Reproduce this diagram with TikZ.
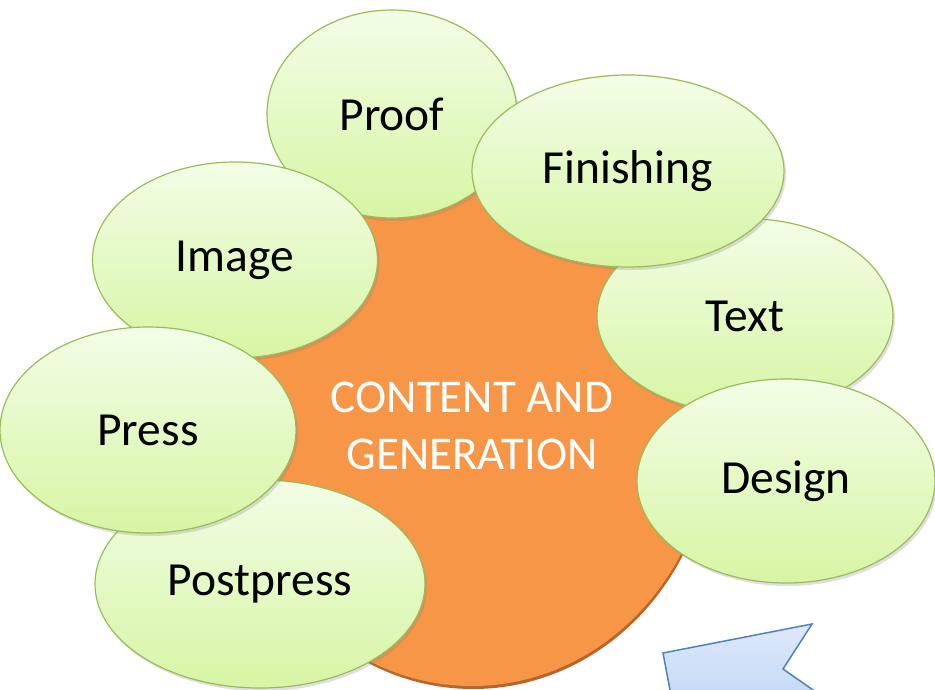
\documentclass[tikz,border=0pt]{standalone}
\usepackage{fontspec}
\setmainfont{Carlito}
\usetikzlibrary{shapes.geometric,shadows}
\definecolor{leafTop}{HTML}{F2FDE6}
\definecolor{leafBot}{HTML}{D7F5A4}
\definecolor{leafRim}{HTML}{9BBB59}
\definecolor{coreFill}{HTML}{F79646}
\definecolor{coreRim}{HTML}{B9652A}
\definecolor{arrowTop}{HTML}{DDE9FC}
\definecolor{arrowBot}{HTML}{C3D7F4}
\definecolor{arrowRim}{HTML}{4F81BD}
\begin{document}
\begin{tikzpicture}[x=1pt,y=-1pt,
  leaf/.style={draw=leafRim, line width=1.2pt, ellipse, inner sep=0pt,
    top color=leafTop, bottom color=leafBot,
    font=\fontsize{47.5}{50}\selectfont,
    drop shadow={opacity=0.25, shadow xshift=2pt, shadow yshift=-3pt}},
  core/.style={ellipse, inner sep=0pt, fill=coreFill, text=white, align=center,
    font=\fontsize{47}{57}\selectfont,
    drop shadow={fill=coreRim, opacity=1, shadow xshift=1pt, shadow yshift=-3pt}}]
\useasboundingbox (0,0) rectangle (935,690);
\node[core, minimum width=480pt, minimum height=520pt] (core) at (472,426) {CONTENT AND\\GENERATION};
\node[leaf, minimum width=330pt, minimum height=208pt] (postpress) at (260,584) {Postpress};
\node[leaf, minimum width=250pt, minimum height=208pt] (proof) at (392,114) {Proof};
\node[leaf, minimum width=285pt, minimum height=196pt] (image) at (235,260) {Image};
\node[leaf, minimum width=296pt, minimum height=206pt] (press) at (148,430) {Press};
\node[leaf, minimum width=296pt, minimum height=195pt] (text) at (745,316) {Text};
\node[leaf, minimum width=312pt, minimum height=192pt] (finishing) at (628,171) {Finishing};
\node[leaf, minimum width=298pt, minimum height=204pt] (design) at (786,481) {Design};
% arrow tail, cut off by the page edge
\begin{scope}
\clip (0,0) rectangle (935,690);
\draw[draw=arrowRim, line width=1.5pt, top color=arrowTop, bottom color=arrowBot]
  (663,653) -- (812,624) -- (783,669) -- (836,706) -- (673,706) -- cycle;
\end{scope}
\end{tikzpicture}
\end{document}
